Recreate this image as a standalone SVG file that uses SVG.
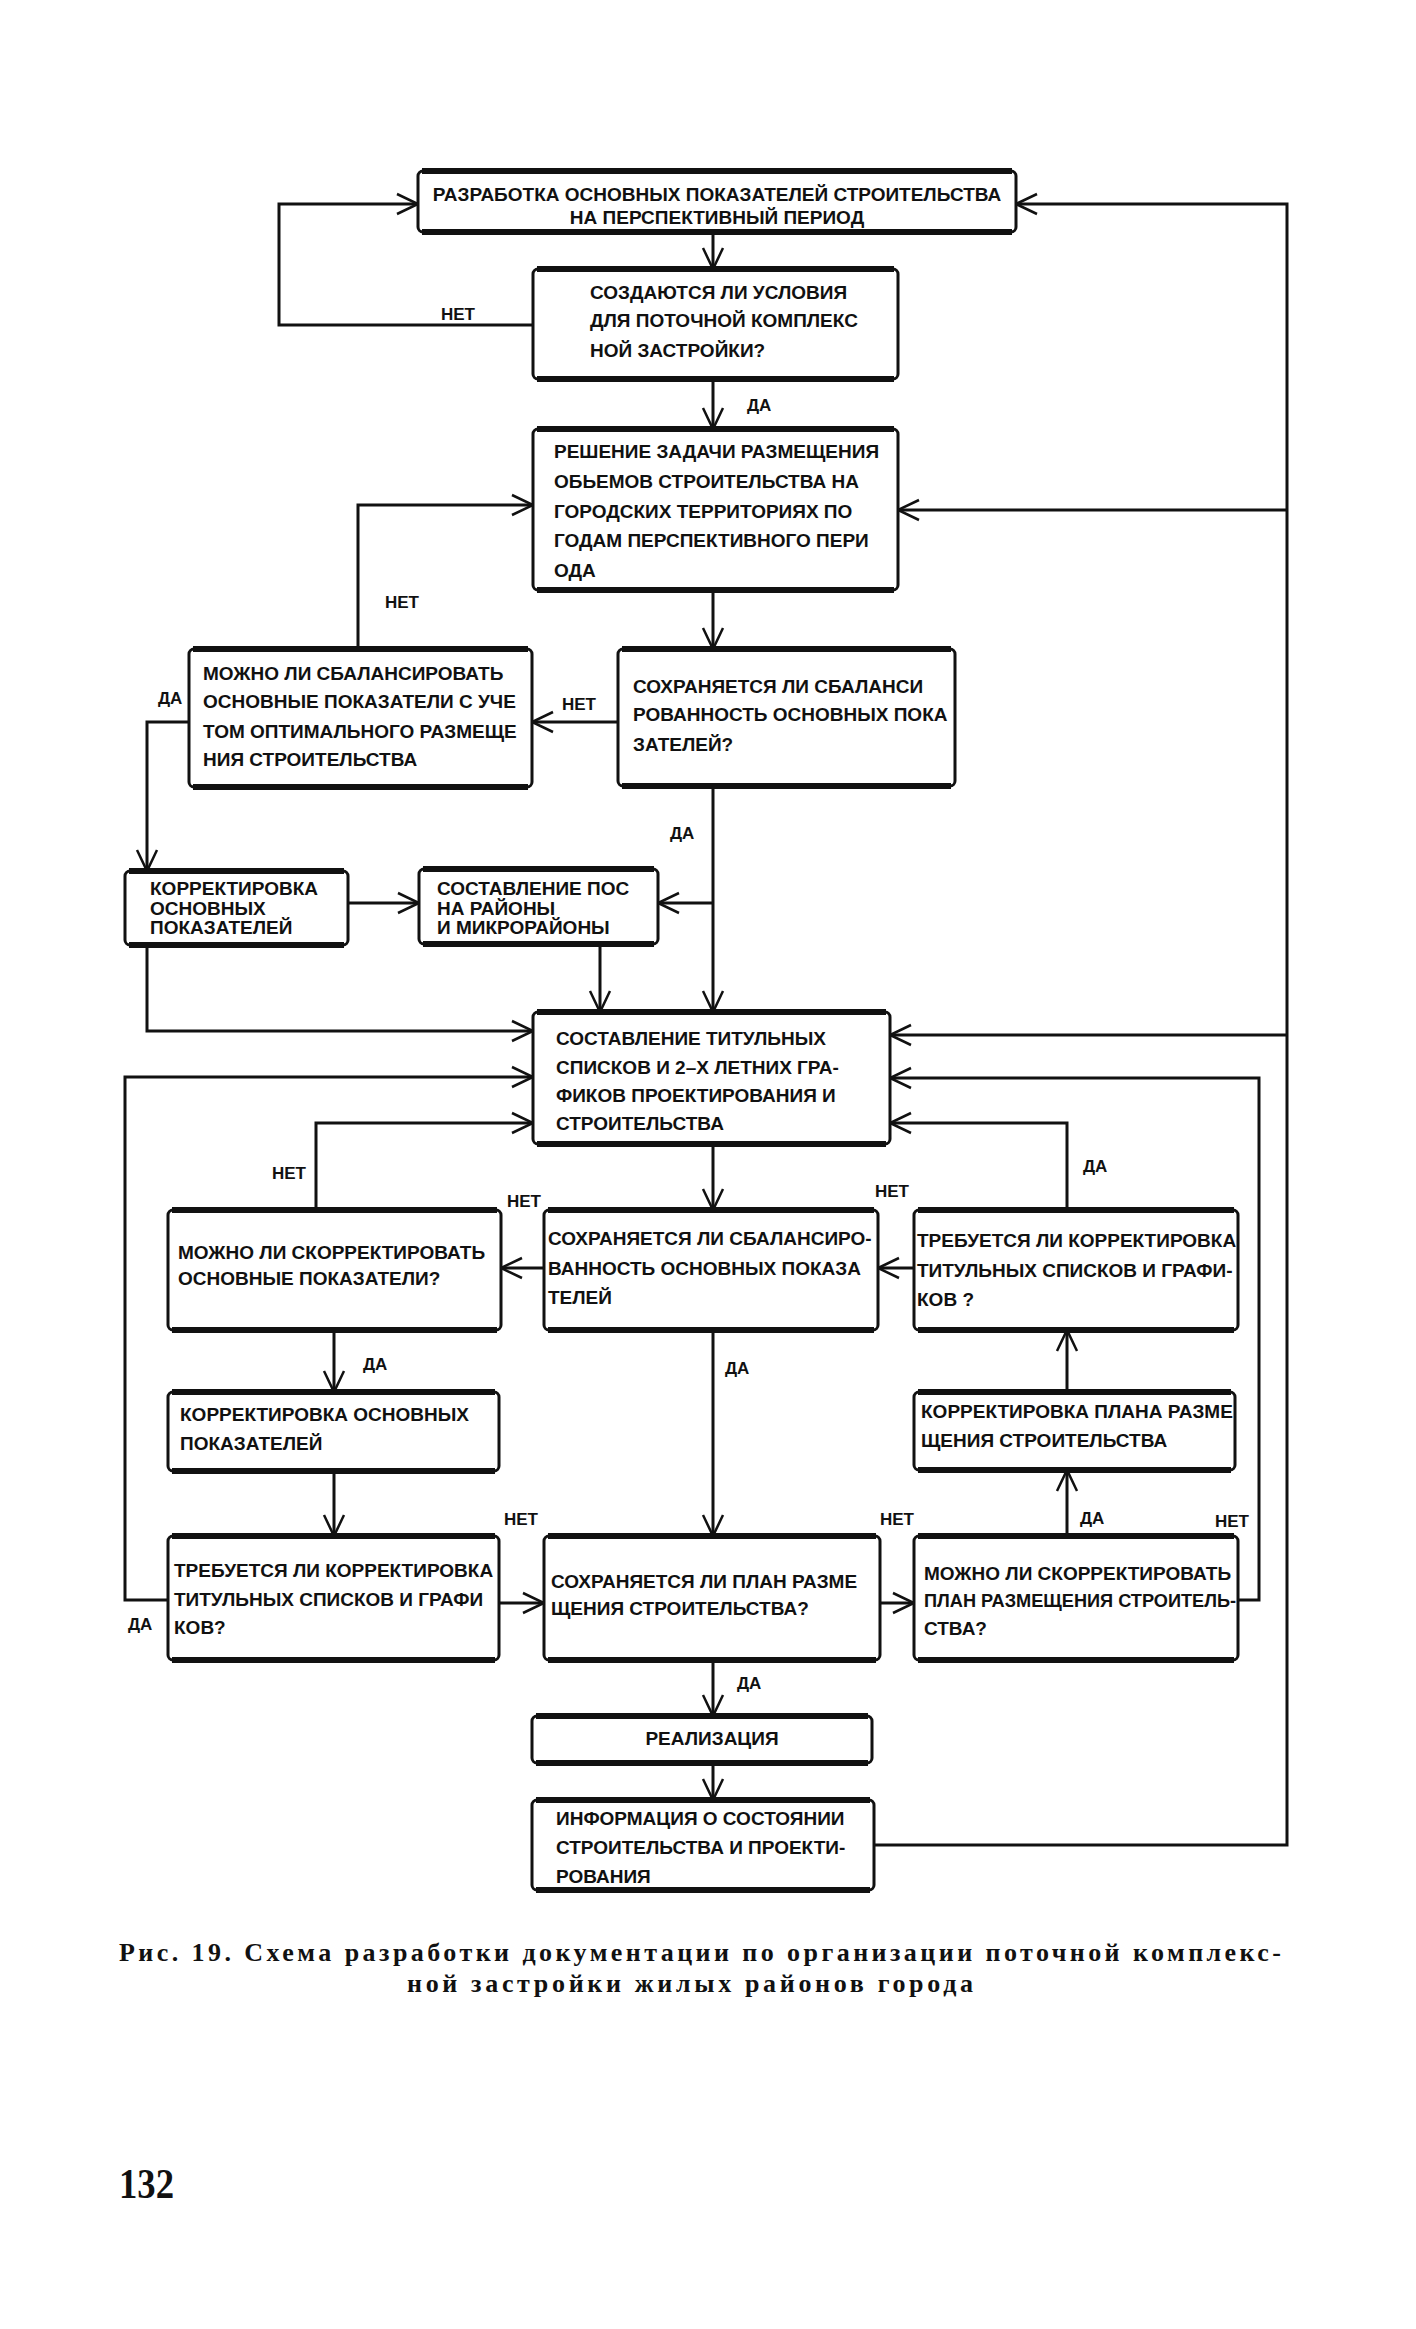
<svg xmlns="http://www.w3.org/2000/svg" width="1416" height="2329" viewBox="0 0 1416 2329">
<style>
.bx{fill:#fff;stroke:#111;stroke-width:3}
.ed{fill:none;stroke:#111;stroke-width:6}
.t{font-family:"Liberation Sans",Arial,sans-serif;font-weight:bold;font-size:19px;fill:#111}
.l{font-family:"Liberation Sans",Arial,sans-serif;font-weight:bold;font-size:17px;fill:#111}
.c{fill:none;stroke:#111;stroke-width:3;marker-end:url(#ah)}
.cap{font-family:"Liberation Serif","Times New Roman",serif;font-weight:bold;font-size:26px;fill:#111}
</style>
<defs>
<marker id="ah" markerUnits="userSpaceOnUse" viewBox="-24 -13 27 26" markerWidth="27" markerHeight="26" refX="0" refY="0" orient="auto">
<path d="M-21,-10 L0,0 L-21,10" fill="none" stroke="#111" stroke-width="2.5"/>
</marker>
</defs>
<rect width="1416" height="2329" fill="#fff"/>

<g id="connectors">
<path class="c" d="M713,232 V269"/>
<path class="c" d="M533,325 H279 V204 H418"/>
<path class="c" d="M713,379 V429"/>
<path class="c" d="M874,1845 H1287 V204 H1016"/>
<path class="c" d="M1287,510 H898"/>
<path class="c" d="M1287,1035 H890"/>
<path class="c" d="M713,590 V649"/>
<path class="c" d="M618,722 H532"/>
<path class="c" d="M358,649 V505 H533"/>
<path class="c" d="M189,722 H147 V871"/>
<path class="c" d="M348,903 H419"/>
<path class="c" d="M713,786 V1012"/>
<path class="c" d="M713,903 H658"/>
<path class="c" d="M600,943 V1012"/>
<path class="c" d="M147,945 V1031 H533"/>
<path class="c" d="M713,1144 V1210"/>
<path class="c" d="M544,1268 H501"/>
<path class="c" d="M914,1268 H878"/>
<path class="c" d="M316,1210 V1123 H533"/>
<path class="c" d="M1067,1210 V1123 H890"/>
<path class="c" d="M334,1330 V1392"/>
<path class="c" d="M1067,1392 V1330"/>
<path class="c" d="M334,1471 V1536"/>
<path class="c" d="M713,1330 V1536"/>
<path class="c" d="M499,1603 H544"/>
<path class="c" d="M880,1603 H914"/>
<path class="c" d="M1067,1536 V1470"/>
<path class="c" d="M1238,1600 H1259 V1078 H890"/>
<path class="c" d="M168,1600 H125 V1077 H533"/>
<path class="c" d="M713,1660 V1716"/>
<path class="c" d="M713,1763 V1800"/>
</g>

<g id="labels">
<text class="l" x="441" y="320">НЕТ</text>
<text class="l" x="747" y="411">ДА</text>
<text class="l" x="385" y="608">НЕТ</text>
<text class="l" x="562" y="710">НЕТ</text>
<text class="l" x="158" y="704">ДА</text>
<text class="l" x="670" y="839">ДА</text>
<text class="l" x="272" y="1179">НЕТ</text>
<text class="l" x="507" y="1207">НЕТ</text>
<text class="l" x="875" y="1197">НЕТ</text>
<text class="l" x="1083" y="1172">ДА</text>
<text class="l" x="363" y="1370">ДА</text>
<text class="l" x="725" y="1374">ДА</text>
<text class="l" x="504" y="1525">НЕТ</text>
<text class="l" x="880" y="1525">НЕТ</text>
<text class="l" x="1080" y="1524">ДА</text>
<text class="l" x="1215" y="1527">НЕТ</text>
<text class="l" x="128" y="1630">ДА</text>
<text class="l" x="737" y="1689">ДА</text>
</g>

<g id="nA">
<rect class="bx" x="418" y="171" width="598" height="61" rx="5"/>
<path class="ed" d="M422,171 H1012 M422,232 H1012"/>
<text class="t" x="717" y="201" text-anchor="middle">РАЗРАБОТКА ОСНОВНЫХ ПОКАЗАТЕЛЕЙ СТРОИТЕЛЬСТВА</text>
<text class="t" x="717" y="224" text-anchor="middle">НА ПЕРСПЕКТИВНЫЙ ПЕРИОД</text>
</g>
<g id="nB">
<rect class="bx" x="533" y="269" width="365" height="110" rx="5"/>
<path class="ed" d="M537,269 H894 M537,379 H894"/>
<text class="t" x="590" y="299">СОЗДАЮТСЯ ЛИ УСЛОВИЯ</text>
<text class="t" x="590" y="327">ДЛЯ ПОТОЧНОЙ КОМПЛЕКС</text>
<text class="t" x="590" y="357">НОЙ ЗАСТРОЙКИ?</text>
</g>
<g id="nC">
<rect class="bx" x="533" y="429" width="365" height="161" rx="5"/>
<path class="ed" d="M537,429 H894 M537,590 H894"/>
<text class="t" x="554" y="458">РЕШЕНИЕ ЗАДАЧИ РАЗМЕЩЕНИЯ</text>
<text class="t" x="554" y="488">ОБЬЕМОВ СТРОИТЕЛЬСТВА НА</text>
<text class="t" x="554" y="518">ГОРОДСКИХ ТЕРРИТОРИЯХ ПО</text>
<text class="t" x="554" y="547">ГОДАМ ПЕРСПЕКТИВНОГО ПЕРИ</text>
<text class="t" x="554" y="577">ОДА</text>
</g>
<g id="nD">
<rect class="bx" x="189" y="649" width="343" height="138" rx="5"/>
<path class="ed" d="M193,649 H528 M193,787 H528"/>
<text class="t" x="203" y="680">МОЖНО ЛИ СБАЛАНСИРОВАТЬ</text>
<text class="t" x="203" y="708">ОСНОВНЫЕ ПОКАЗАТЕЛИ С УЧЕ</text>
<text class="t" x="203" y="738">ТОМ ОПТИМАЛЬНОГО РАЗМЕЩЕ</text>
<text class="t" x="203" y="766">НИЯ СТРОИТЕЛЬСТВА</text>
</g>
<g id="nE">
<rect class="bx" x="618" y="649" width="337" height="137" rx="5"/>
<path class="ed" d="M622,649 H951 M622,786 H951"/>
<text class="t" x="633" y="693">СОХРАНЯЕТСЯ ЛИ СБАЛАНСИ</text>
<text class="t" x="633" y="721">РОВАННОСТЬ ОСНОВНЫХ ПОКА</text>
<text class="t" x="633" y="751">ЗАТЕЛЕЙ?</text>
</g>
<g id="nF">
<rect class="bx" x="125" y="871" width="223" height="74" rx="5"/>
<path class="ed" d="M129,871 H344 M129,945 H344"/>
<text class="t" x="150" y="895">КОРРЕКТИРОВКА</text>
<text class="t" x="150" y="915">ОСНОВНЫХ</text>
<text class="t" x="150" y="934">ПОКАЗАТЕЛЕЙ</text>
</g>
<g id="nG">
<rect class="bx" x="419" y="869" width="239" height="75" rx="5"/>
<path class="ed" d="M423,869 H654 M423,944 H654"/>
<text class="t" x="437" y="895">СОСТАВЛЕНИЕ ПОС</text>
<text class="t" x="437" y="915">НА РАЙОНЫ</text>
<text class="t" x="437" y="934">И МИКРОРАЙОНЫ</text>
</g>
<g id="nH">
<rect class="bx" x="533" y="1012" width="357" height="132" rx="5"/>
<path class="ed" d="M537,1012 H886 M537,1144 H886"/>
<text class="t" x="556" y="1045">СОСТАВЛЕНИЕ ТИТУЛЬНЫХ</text>
<text class="t" x="556" y="1074">СПИСКОВ И 2–Х ЛЕТНИХ ГРА-</text>
<text class="t" x="556" y="1102">ФИКОВ ПРОЕКТИРОВАНИЯ И</text>
<text class="t" x="556" y="1130">СТРОИТЕЛЬСТВА</text>
</g>
<g id="nI">
<rect class="bx" x="168" y="1210" width="333" height="120" rx="5"/>
<path class="ed" d="M172,1210 H497 M172,1330 H497"/>
<text class="t" x="178" y="1259">МОЖНО ЛИ СКОРРЕКТИРОВАТЬ</text>
<text class="t" x="178" y="1285">ОСНОВНЫЕ ПОКАЗАТЕЛИ?</text>
</g>
<g id="nJ">
<rect class="bx" x="544" y="1210" width="334" height="120" rx="5"/>
<path class="ed" d="M548,1210 H874 M548,1330 H874"/>
<text class="t" x="548" y="1245">СОХРАНЯЕТСЯ ЛИ СБАЛАНСИРО-</text>
<text class="t" x="548" y="1275">ВАННОСТЬ ОСНОВНЫХ ПОКАЗА</text>
<text class="t" x="548" y="1304">ТЕЛЕЙ</text>
</g>
<g id="nK">
<rect class="bx" x="914" y="1210" width="324" height="120" rx="5"/>
<path class="ed" d="M918,1210 H1234 M918,1330 H1234"/>
<text class="t" x="917" y="1247">ТРЕБУЕТСЯ ЛИ КОРРЕКТИРОВКА</text>
<text class="t" x="917" y="1277">ТИТУЛЬНЫХ СПИСКОВ И ГРАФИ-</text>
<text class="t" x="917" y="1306">КОВ ?</text>
</g>
<g id="nL">
<rect class="bx" x="168" y="1392" width="331" height="79" rx="5"/>
<path class="ed" d="M172,1392 H495 M172,1471 H495"/>
<text class="t" x="180" y="1421">КОРРЕКТИРОВКА ОСНОВНЫХ</text>
<text class="t" x="180" y="1450">ПОКАЗАТЕЛЕЙ</text>
</g>
<g id="nM">
<rect class="bx" x="914" y="1392" width="321" height="78" rx="5"/>
<path class="ed" d="M918,1392 H1231 M918,1470 H1231"/>
<text class="t" x="921" y="1418">КОРРЕКТИРОВКА ПЛАНА РАЗМЕ</text>
<text class="t" x="921" y="1447">ЩЕНИЯ СТРОИТЕЛЬСТВА</text>
</g>
<g id="nN">
<rect class="bx" x="168" y="1536" width="331" height="124" rx="5"/>
<path class="ed" d="M172,1536 H495 M172,1660 H495"/>
<text class="t" x="174" y="1577">ТРЕБУЕТСЯ ЛИ КОРРЕКТИРОВКА</text>
<text class="t" x="174" y="1606">ТИТУЛЬНЫХ СПИСКОВ И ГРАФИ</text>
<text class="t" x="174" y="1634">КОВ?</text>
</g>
<g id="nO">
<rect class="bx" x="544" y="1536" width="336" height="124" rx="5"/>
<path class="ed" d="M548,1536 H876 M548,1660 H876"/>
<text class="t" x="551" y="1588">СОХРАНЯЕТСЯ ЛИ ПЛАН РАЗМЕ</text>
<text class="t" x="551" y="1615">ЩЕНИЯ СТРОИТЕЛЬСТВА?</text>
</g>
<g id="nP">
<rect class="bx" x="914" y="1536" width="324" height="124" rx="5"/>
<path class="ed" d="M918,1536 H1234 M918,1660 H1234"/>
<text class="t" x="924" y="1580">МОЖНО ЛИ СКОРРЕКТИРОВАТЬ</text>
<text class="t" x="924" y="1607" textLength="312" lengthAdjust="spacingAndGlyphs">ПЛАН РАЗМЕЩЕНИЯ СТРОИТЕЛЬ-</text>
<text class="t" x="924" y="1635">СТВА?</text>
</g>
<g id="nQ">
<rect class="bx" x="532" y="1716" width="340" height="47" rx="5"/>
<path class="ed" d="M536,1716 H868 M536,1763 H868"/>
<text class="t" x="712" y="1745" text-anchor="middle">РЕАЛИЗАЦИЯ</text>
</g>
<g id="nR">
<rect class="bx" x="532" y="1800" width="342" height="90" rx="5"/>
<path class="ed" d="M536,1800 H870 M536,1890 H870"/>
<text class="t" x="556" y="1825">ИНФОРМАЦИЯ О СОСТОЯНИИ</text>
<text class="t" x="556" y="1854">СТРОИТЕЛЬСТВА И ПРОЕКТИ-</text>
<text class="t" x="556" y="1883">РОВАНИЯ</text>
</g>

<g id="caption">
<text class="cap" x="119" y="1961" textLength="1162" lengthAdjust="spacing">Рис. 19. Схема разработки документации по организации поточной комплекс-</text>
<text class="cap" x="407" y="1992" textLength="566" lengthAdjust="spacing">ной застройки жилых районов города</text>
<text class="cap" x="119" y="2198" style="font-size:42px" textLength="55" lengthAdjust="spacingAndGlyphs">132</text>
</g>
</svg>
